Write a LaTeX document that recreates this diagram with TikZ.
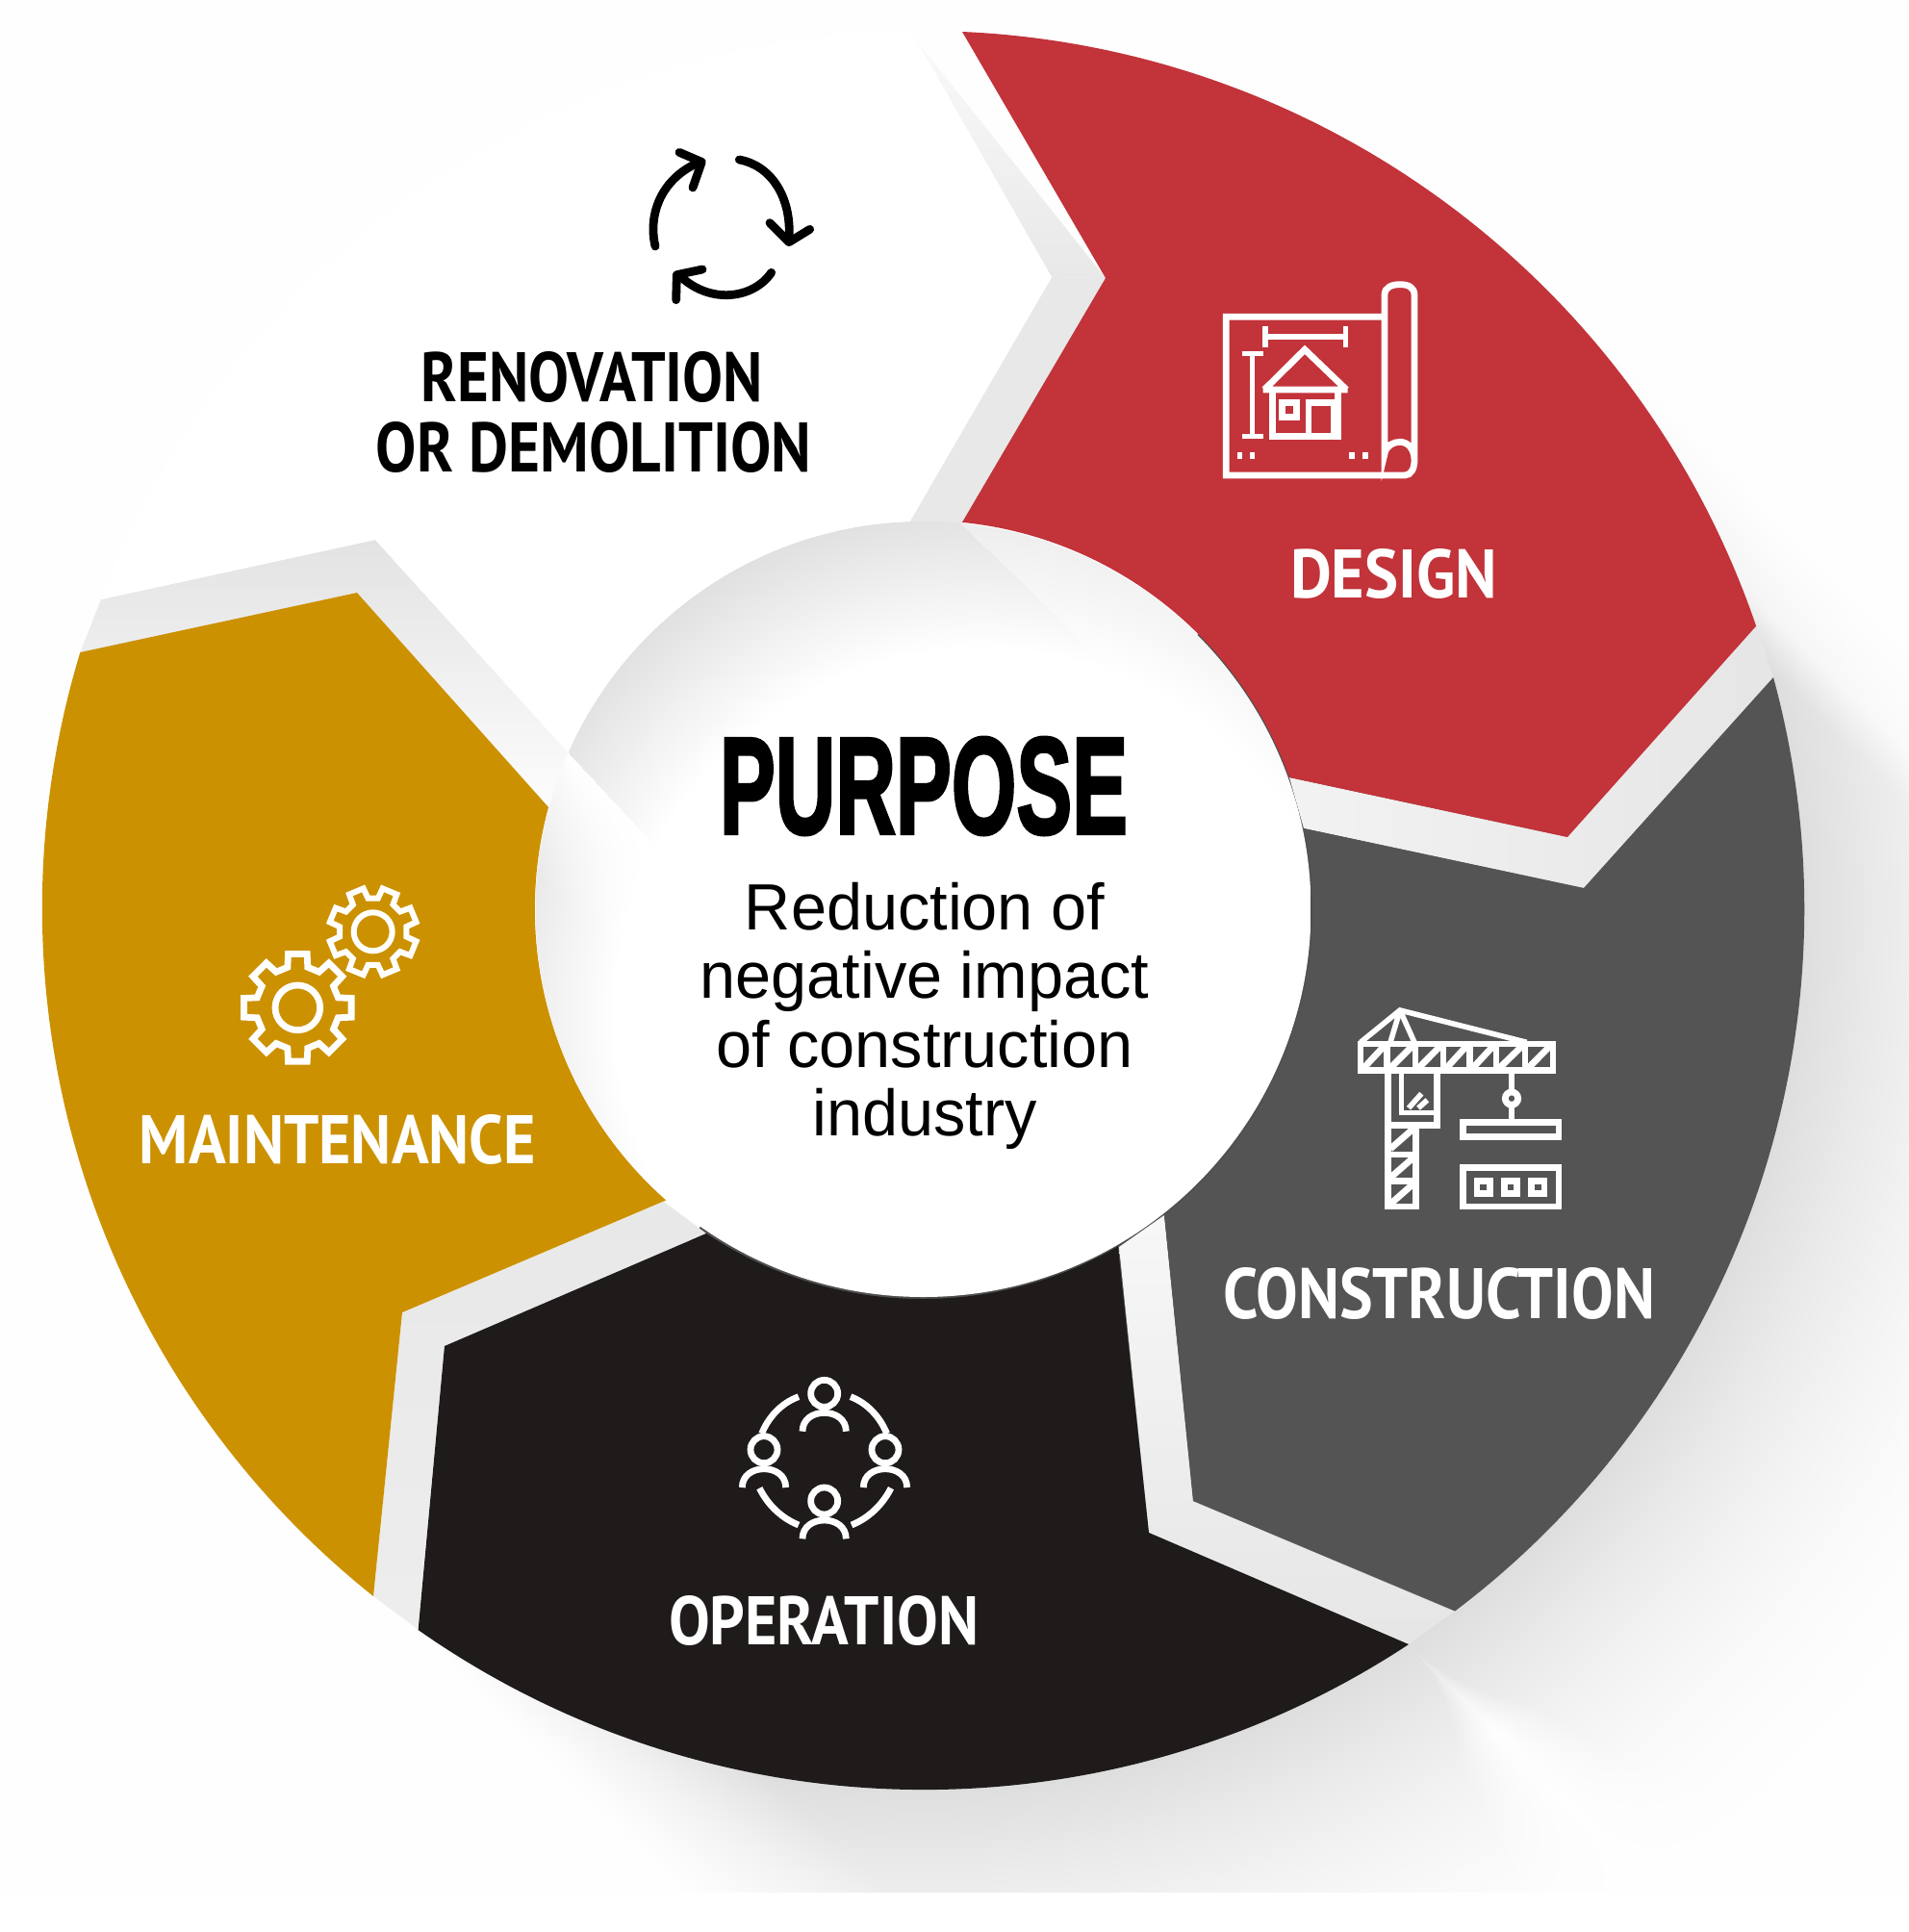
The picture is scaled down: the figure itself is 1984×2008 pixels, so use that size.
\documentclass[tikz,border=0pt]{standalone}
\usepackage{fontspec}
\usepackage{graphicx}
\newfontfamily\headf[UprightFont=* Bold]{PT Sans}
\newfontfamily\purpf[UprightFont=* Bold,FakeBold=2.5]{Liberation Sans}
\newfontfamily\bodyf[FakeStretch=.98]{Liberation Sans}
\definecolor{cRed}{RGB}{194,51,58}
\definecolor{cGrey}{RGB}{84,84,84}
\definecolor{cBlack}{RGB}{30,27,26}
\definecolor{cGold}{RGB}{204,145,0}
\definecolor{bgc}{gray}{.995}
% long shadow of the ring, computed per point (x y in bp -> r g b)
\pgfdeclarefunctionalshading{shadowfield}{\pgfpoint{0bp}{0bp}}{\pgfpoint{988.3bp}{1000.3bp}}{}{
 exch 2.0075 mul 959.5 sub
 exch 2.0075 mul 2008 exch sub 945 sub
 2 copy dup mul exch dup mul add sqrt
 3 1 roll sub 0.7071 mul
 exch 915 sub 380 div
 dup 1 exch sub dup 0 lt {pop 0} if dup mul
 2 index 915 exch sub 93 div dup 1 gt {pop 1} if dup 0 lt {pop 0} if 0.35 mul
 3 index 840 exch sub 40 div dup 1 gt {pop 1} if dup 0 lt {pop 0} if 0.65 mul add
 mul
 2 index 900 add 150 div dup 1 gt {pop 1} if dup 0 lt {pop 0} if mul
 2 index 184 add abs
 2 index 133 mul abs 2 add div
 2 index 3 mul 1 exch sub dup 0 lt {pop 0} if add
 dup 1 gt {pop 1} if mul
 3 1 roll pop pop
 0.125 mul 0.995 exch sub dup dup
}
% inner glow of the centre circle
\pgfdeclarefunctionalshading{centerfield}{\pgfpoint{0bp}{0bp}}{\pgfpoint{988.3bp}{1000.3bp}}{}{
 exch 2.0075 mul exch 2.0075 mul 2008 exch sub
 2 copy 1055 sub dup mul exch 1020 sub dup mul add sqrt 380 sub 160 div dup 0 lt {pop 0} if dup 1 gt {pop 1} if
 2 index 592 sub -0.732 mul 2 index 784 sub 0.681 mul add
 dup 0 lt {pop 1} {110 div dup 1 gt {pop 1} if} ifelse mul
 2 index 1000 sub 0.69 mul 2 index 546 sub 0.72 mul sub
 0 gt {0.65 mul} if
 3 1 roll pop pop
 0.13 mul 1 exch sub dup dup
}
\newcommand{\fitbox}[3]{\resizebox{#1pt}{#2pt}{#3}}
\tikzset{
 iconw/.style={draw=white,line width=3.4pt,line join=miter},
 iconthin/.style={draw=white,line width=2.8pt},
 cyc/.style={draw=black,line width=4.4pt,line cap=round,line join=round},
 head/.style={inner sep=0pt,text=white},
 field/.style={inner sep=0pt,outer sep=0pt,anchor=south west},
}
\begin{document}
\begin{tikzpicture}[x=1pt,y=1pt,xscale=.5,yscale=-.5]
\useasboundingbox (0,0) rectangle (1984,2008);
\clip (0,0) rectangle (1984,2008);
\coordinate (C) at (959.5,945);
\fill[white] (0,0) rectangle (1984,2008);
\fill[bgc] (0,0) rectangle (1984,1967);
% ring shadow
\begin{scope}
\clip (1606,298) -- (2400,1092) -- (2400,1967) -- (708,1967) -- (434,1693) -- (C) -- cycle;
\node[field] (ringshade) at (0,2008) {\pgfuseshading{shadowfield}};
\end{scope}
% gaps
\shade[top color=black!2,bottom color=black!9] (945,33) -- (1093,288) -- (1149,289) -- cycle;
\shade[top color=black!9,bottom color=black!9] (1093,288) -- (945,543) -- (1000,546) -- (1149,289) -- cycle;
\shade[left color=black!5,right color=black!10] (1340,808) -- (1629,870) -- (1825,649) -- (1843,704) -- (1646,923) -- (1355,861) -- cycle;
\shade[top color=black!3,bottom color=black!10] (1163,1296) -- (1194,1593) -- (1464,1709) -- (1511,1675) -- (1240,1560) -- (1210,1263) -- cycle;
\shade[top color=black!9,bottom color=black!7] (734,1282) -- (462,1399) -- (434,1693) -- (388,1659) -- (418,1364) -- (690,1249) -- cycle;
\shade[top color=black!11,bottom color=black!1] (105,623) -- (390,561) -- (592,784) -- (569,839) -- (371,616) -- (83,679) -- cycle;
% segments
\fill[white] (105,623) arc[start angle=200.7,end angle=269.1,radius=915] -- (1093,288) -- (945,543) -- (592,784) -- (390,561) -- cycle;
\fill[cRed] (1000,33) arc[start angle=-87.46,end angle=-18.9,radius=915] -- (1629,870) -- (1340,808) arc[start angle=-19.8,end angle=-84.3,radius=404] -- (1149,289) -- cycle;
\fill[cGrey] (1843,704) arc[start angle=-15.25,end angle=52.9,radius=915] -- (1240,1560) -- (1210,1263) arc[start angle=51.7,end angle=-12,radius=405] -- (1646,923) -- cycle;
\fill[cBlack] (1464,1709) arc[start angle=56.6,end angle=125.07,radius=915] -- (462,1399) -- (734,1282) arc[start angle=123.7,end angle=59.9,radius=405] -- (1194,1593) -- cycle;
\fill[cGold] (388,1659) arc[start angle=128.6,end angle=196.9,radius=915] -- (371,616) -- (570,839) arc[start angle=195.2,end angle=131.5,radius=404] -- (418,1364) -- cycle;
% centre circle
\begin{scope}
\clip (C) circle (403);
\node[field] (centreshade) at (0,2008) {\pgfuseshading{centerfield}};
\end{scope}
% labels
\node[head,text=black] (lrenov) at (615.5,392) {\fitbox{177.5}{26}{\headf RENOVATION}};
\node[head,text=black] (ldemol) at (617,465) {\fitbox{226}{26}{\headf OR DEMOLITION}};
\node[head] (ldesign) at (1448.5,596) {\fitbox{107.5}{25.5}{\headf DESIGN}};
\node[head] (lconstr) at (1495.5,1344.5) {\fitbox{224.5}{26.5}{\headf CONSTRUCTION}};
\node[head] (loper) at (856,1684.5) {\fitbox{161}{25.5}{\headf OPERATION}};
\node[head] (lmaint) at (351,1184.5) {\fitbox{206}{25.5}{\headf MAINTENANCE}};
\node[head,text=black] (lpurp) at (960,817) {\fitbox{212}{50}{\purpf PURPOSE}};
\node[inner sep=0pt,align=center,text=black,font=\bodyf\fontsize{34}{35.7}\selectfont] (lbody) at (961,1056) {Reduction of\\negative impact\\of construction\\industry};
% design icon
\begin{scope}[shift={(1240,270)},scale=1/3]
\draw[iconw] (597,178) -- (103,178) -- (103,672) -- (660,672) .. controls (680,672) and (690,650) .. (690,625) -- (690,110) .. controls (690,85) and (670,77) .. (645,77) .. controls (620,77) and (597,85) .. (597,110) -- (597,605) .. controls (600,580) and (625,568) .. (645,568) .. controls (670,568) and (690,590) .. (690,625);
\draw[iconthin] (225,240) -- (475,240) (225,207) -- (225,272) (475,207) -- (475,272);
\draw[iconthin] (185,292) -- (185,550) (153,292) -- (218,292) (153,550) -- (218,550);
\draw[iconw] (222,405) -- (348,280) -- (478,405) (218,405) -- (482,405);
\draw[iconw] (247,405) -- (247,550) -- (452,550) -- (452,405);
\draw[iconw] (278,445) rectangle (322,490);
\draw[iconw] (360,550) -- (360,445) -- (440,445) -- (440,550);
\foreach \dx in {145,185,495,537} \fill[white] (\dx-8,600) rectangle (\dx+8,622);
\end{scope}
% crane icon
\begin{scope}[shift={(1390,1030)},scale=1/3]
\draw[iconw] (72,165) rectangle (672,248);
\foreach \a/\b in {72/155,155/243,243/330,330/412,412/495,495/585,585/672} {
  \draw[iconw] (\b,165) -- (\b,248);
  \draw[iconw] (\a+10,240) -- (\b-10,172);
}
\draw[iconthin] (72,160) -- (195,60) -- (590,160) (195,60) -- (165,160) (195,60) -- (240,160);
\draw[iconw] (158,248) -- (158,672) -- (245,672) -- (245,420);
\draw[iconw] (158,510) -- (245,510) (158,592) -- (245,592);
\foreach \t in {420,510,592} \draw[iconw] (165,\t+72) -- (238,\t+8);
\draw[iconw] (310,248) -- (310,418) -- (158,418);
\draw[iconthin] (200,248) -- (200,380) -- (310,380);
\draw[iconthin] (222,365) -- (262,320) (252,365) -- (280,340);
\draw[iconw] (543,248) -- (543,405);
\draw[iconw,fill=cGrey] (543,335) circle (20);
\draw[iconw] (392,410) rectangle (690,455);
\draw[iconw] (392,550) rectangle (690,672);
\foreach \q in {455,540,625} \draw[iconw] (\q-20,592) rectangle (\q+20,632);
\end{scope}
% operation icon
\begin{scope}[shift={(750,1410)},scale=1/3]
\foreach \px/\py in {320/115,132/290,510/290,320/450} {
  \draw[iconw] (\px,\py) circle (42);
  \draw[iconw] (\px-68,\py+118) .. controls (\px-68,\py+80) and (\px-35,\py+60) .. (\px,\py+60) .. controls (\px+35,\py+60) and (\px+68,\py+80) .. (\px+68,\py+118);
}
\draw[iconw] (240,125) .. controls (185,145) and (145,190) .. (125,240);
\draw[iconw] (402,125) .. controls (455,145) and (495,190) .. (515,240);
\draw[iconw] (118,410) .. controls (145,465) and (190,505) .. (240,525);
\draw[iconw] (528,410) .. controls (500,465) and (455,505) .. (405,525);
\end{scope}
% gears icon
\begin{scope}[shift={(230,900)},scale=1/3]
\draw[iconw] ([shift={(-14:130)}]238,442) \foreach \k in {0,45,...,315} { -- ([shift={(\k-14:130)}]238,442) -- ([shift={(\k-10:170)}]238,442) -- ([shift={(\k+10:170)}]238,442) -- ([shift={(\k+14:130)}]238,442) } -- cycle;
\draw[iconw] (238,442) circle (70);
\draw[iconw,line width=3pt] ([shift={(8.5:105)}]473,205) \foreach \k in {22.5,67.5,...,337.5} { -- ([shift={(\k-14:105)}]473,205) -- ([shift={(\k-10:138)}]473,205) -- ([shift={(\k+10:138)}]473,205) -- ([shift={(\k+14:105)}]473,205) } -- cycle;
\draw[iconw,line width=3pt] (473,205) circle (60);
\end{scope}
% cycle icon
\begin{scope}[shift={(650,130)},scale=1/3]
\draw[cyc] (93,378) .. controls (70,280) and (110,170) .. (225,118);
\draw[cyc] (168,85) -- (238,115) -- (210,195);
\draw[cyc] (355,108) .. controls (450,125) and (520,220) .. (510,360);
\draw[cyc] (450,305) -- (510,365) -- (575,325);
\draw[cyc] (455,460) .. controls (400,540) and (270,560) .. (175,475);
\draw[cyc] (240,450) -- (160,467) -- (158,545);
\end{scope}
\end{tikzpicture}
\end{document}
